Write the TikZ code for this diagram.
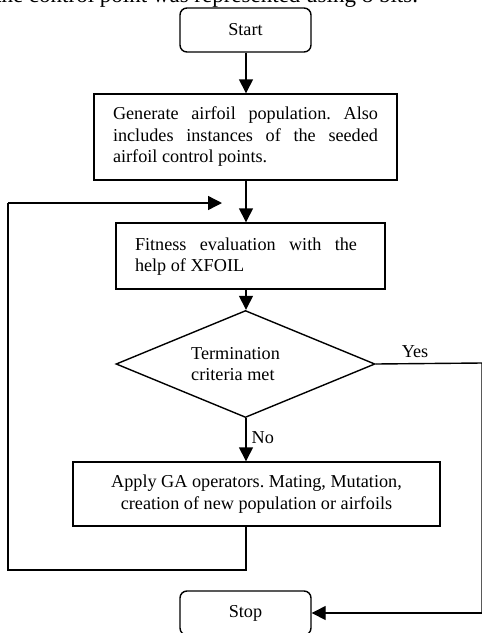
\documentclass[tikz,border=0pt]{standalone}
\usepackage{fontspec}
\setmainfont{Liberation Serif}
\usetikzlibrary{arrows.meta,shapes.geometric}
\newcommand{\dfont}{\fontsize{18.2}{21.5}\selectfont\frenchspacing}
\tikzset{
  lw/.style={line width=1.4pt},
  boxnode/.style={draw, lw, rectangle, inner sep=0pt, font=\dfont},
  termnode/.style={draw, lw, rectangle, rounded corners=7pt, inner sep=0pt,
    minimum width=131pt, minimum height=44pt, font=\dfont},
  txt/.style={inner sep=0pt, font=\dfont},
  arr/.style={lw, -{Triangle[width=14pt,length=14pt]}},
  conn/.style={lw},
}
\begin{document}
\begin{tikzpicture}[x=1pt,y=-1pt]
\useasboundingbox (0,0) rectangle (482,633);
\clip (0,0) rectangle (482,633);
\fill[white] (0,0) rectangle (482,633);

% cropped text line above the figure
\node[anchor=base east, inner sep=0pt, outer sep=0pt, font=\fontsize{23}{28}\selectfont] (cut) at (418,2) {the control point was represented using 8 bits.};

% nodes
\node[termnode] (start) at (245.5,30) {Start};
\node[boxnode, minimum width=303pt, minimum height=86pt, text width=265pt, align=justify, inner xsep=19pt] (gen) at (245.5,137)
  {Generate airfoil population. Also\linebreak includes instances of the seeded\linebreak airfoil control points.};
\node[boxnode, minimum width=269pt, minimum height=66pt] (fit) at (250.5,256) {};
\node[txt, text width=222pt, align=justify] (fittxt) at (246,256.5)
  {Fitness evaluation with the\linebreak help of XFOIL};
\node[draw, lw, diamond, aspect=2.42, minimum width=259pt, minimum height=107pt, inner sep=0pt] (dec) at (245.5,364) {};
\node[txt, anchor=west, align=left] (dectxt) at (191,364) {Termination\\criteria met};
\node[boxnode, minimum width=367pt, minimum height=64pt, align=center] (app) at (256.5,494)
  {Apply GA operators. Mating, Mutation,\\creation of new population or airfoils};
\node[termnode] (stop) at (245.5,613) {Stop};

% helper coordinates
\coordinate (ax) at (246,0);
\coordinate (loopa) at (246,570);
\coordinate (loopb) at (8,570);
\coordinate (loopc) at (8,203);
\coordinate (loopd) at (222,203);
\coordinate (yesa) at (482,363);
\coordinate (yesb) at (482,613);

% connectors
\draw[arr] (ax |- start.south) -- (ax |- gen.north);
\draw[arr] (ax |- gen.south) -- (ax |- fit.north);
\draw[arr] (ax |- fit.south) -- (ax |- dec.north);
\draw[arr] (ax |- dec.south) -- node[txt, right=5pt, pos=0.45] (nolab) {No} (ax |- app.north);
\draw[conn] (ax |- app.south) -- (loopa) -- (loopb) -- (loopc);
\draw[arr] (loopc) -- (loopd);
\draw[conn] (dec.east) -- (yesa) -- (yesb);
\draw[arr] (yesb) -- (stop.east);
\node[txt] (yeslab) at (415,352) {Yes};
\end{tikzpicture}
\end{document}
